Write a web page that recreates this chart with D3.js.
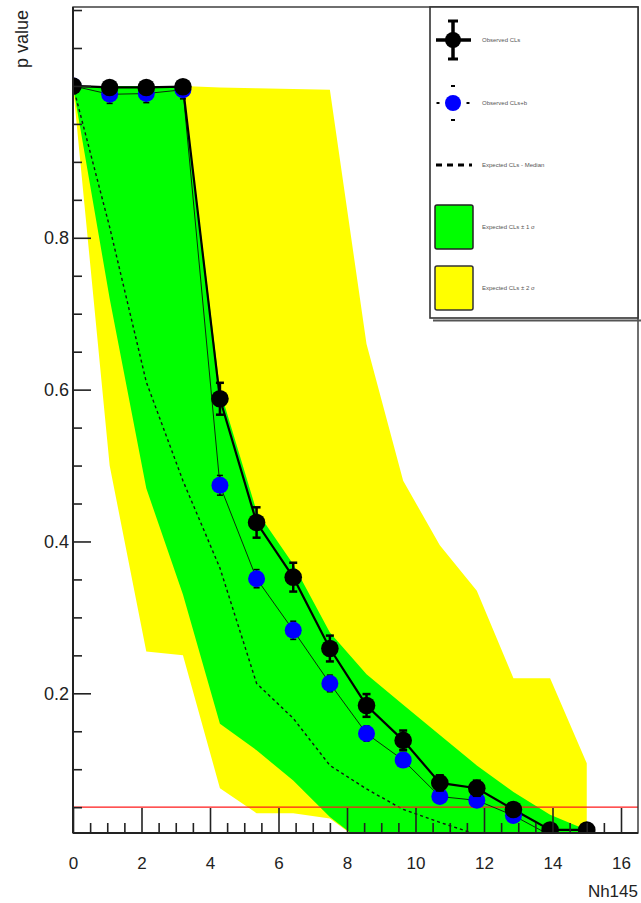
<!DOCTYPE html>
<html>
<head>
<meta charset="utf-8">
<script src="https://cdn.jsdelivr.net/npm/d3@7"></script>
<style>
  html, body { margin: 0; padding: 0; background: #fff; }
  svg { display: block; }
  text { font-family: "Liberation Sans", Arial, Helvetica, sans-serif; }
</style>
</head>
<body>
<svg id="chart" width="641" height="903"></svg>
<script>
// ---- data ----
const xVals      = [0, 1.07, 2.14, 3.21, 4.29, 5.36, 6.43, 7.5, 8.57, 9.64, 10.71, 11.79, 12.86, 13.93, 15.0];
const obsCLs     = [1.0, 0.998, 0.998, 0.999, 0.588, 0.425, 0.353, 0.259, 0.184, 0.138, 0.082, 0.075, 0.047, 0.020, 0.020];
const obsCLsErr  = [0.004, 0.004, 0.004, 0.004, 0.021, 0.020, 0.019, 0.017, 0.015, 0.013, 0.010, 0.010, 0.008, 0.005, 0.005];
const obsCLsb    = [1.0, 0.989, 0.990, 0.995, 0.474, 0.351, 0.283, 0.213, 0.147, 0.112, 0.064, 0.059, 0.039, 0.013, 0.013];
const obsCLsbErr = [0.003, 0.012, 0.012, 0.012, 0.013, 0.012, 0.012, 0.011, 0.010, 0.009, 0.008, 0.008, 0.007, 0.005, 0.005];
const expMedian  = [1.0, 0.814, 0.61, 0.48, 0.365, 0.213, 0.167, 0.105, 0.074, 0.047, 0.03, 0.014, 0.008, 0.005, 0.003];
const green1Up   = [1.0, 1.0, 1.0, 1.0, 0.60, 0.44, 0.37, 0.28, 0.225, 0.185, 0.145, 0.105, 0.07, 0.04, 0.02];
const green1Lo   = [1.0, 0.72, 0.47, 0.33, 0.16, 0.125, 0.085, 0.037, 0.0, 0, 0, 0, 0, 0, 0];
const yellow2Up  = [1.0, 1.0, 1.0, 1.0, 0.998, 0.997, 0.996, 0.995, 0.66, 0.48, 0.395, 0.335, 0.22, 0.22, 0.108];
const yellow2Lo  = [1.0, 0.5, 0.255, 0.25, 0.075, 0.042, 0.042, 0.035, 0, 0, 0, 0, 0, 0, 0];
const refLine    = 0.05;
const xTicks     = [0, 2, 4, 6, 8, 10, 12, 14, 16];
const yTicks     = [0.2, 0.4, 0.6, 0.8, 1.0];
const yTickLabels= ["0.2", "0.4", "0.6", "0.8", ""];
const legendLabels = ["Observed CLs", "Observed CLs+b", "Expected CLs - Median", "Expected CLs \u00b1 1 \u03c3", "Expected CLs \u00b1 2 \u03c3"];
const xTitle = "Nh145";
const yTitle = "p value";

// ---- layout ----
const L = 73, R = 638, T = 7, B = 833;
const svg = d3.select("#chart");
const x = d3.scaleLinear().domain([0, 16.5]).range([L, L + 16.5 * (621 - L) / 16]);
const y = d3.scaleLinear().domain([0.016, 1.104]).range([B, T]);

svg.append("defs").append("clipPath").attr("id", "clip")
  .append("rect").attr("x", L).attr("y", T).attr("width", R - L).attr("height", B - T);

const plot = svg.append("g").attr("clip-path", "url(#clip)");

const idx = d3.range(xVals.length);
const band = (up, lo) => d3.area().x(i => x(xVals[i])).y0(i => y(lo[i])).y1(i => y(up[i]));

plot.append("path").datum(idx).attr("d", band(yellow2Up, yellow2Lo)).attr("fill", "#ffff00");
plot.append("path").datum(idx).attr("d", band(green1Up, green1Lo)).attr("fill", "#00ff00");

const line = arr => d3.line().x(i => x(xVals[i])).y(i => y(arr[i]));
plot.append("path").datum(idx).attr("d", line(expMedian))
  .attr("fill", "none").attr("stroke", "#111").attr("stroke-width", 1.4).attr("stroke-dasharray", "3,3");

// red reference line
plot.append("line").attr("x1", L).attr("x2", R).attr("y1", y(refLine)).attr("y2", y(refLine))
  .attr("stroke", "#ff1a1a").attr("stroke-width", 1.2);

// observed CLs+b (blue)
plot.append("path").datum(idx).attr("d", line(obsCLsb))
  .attr("fill", "none").attr("stroke", "#0a2a0a").attr("stroke-width", 1);
// observed CLs (black)
plot.append("path").datum(idx).attr("d", line(obsCLs))
  .attr("fill", "none").attr("stroke", "#000").attr("stroke-width", 2.2);

function errBars(g, vals, errs, color, cap, w) {
  idx.forEach(i => {
    const cx = x(xVals[i]);
    const y1 = y(vals[i] + errs[i]), y2 = y(vals[i] - errs[i]);
    g.append("line").attr("x1", cx).attr("x2", cx).attr("y1", y1).attr("y2", y2).attr("stroke", color).attr("stroke-width", w);
    g.append("line").attr("x1", cx - cap).attr("x2", cx + cap).attr("y1", y1).attr("y2", y1).attr("stroke", color).attr("stroke-width", w);
    g.append("line").attr("x1", cx - cap).attr("x2", cx + cap).attr("y1", y2).attr("y2", y2).attr("stroke", color).attr("stroke-width", w);
  });
}
const gb = plot.append("g");
errBars(gb, obsCLsb, obsCLsbErr, "#000", 3, 1.5);
gb.selectAll("circle").data(idx).join("circle")
  .attr("cx", i => x(xVals[i])).attr("cy", i => y(obsCLsb[i])).attr("r", 8.5).attr("fill", "#0000ff");
const gk = plot.append("g");
errBars(gk, obsCLs, obsCLsErr, "#000", 4, 2.5);
gk.selectAll("circle").data(idx).join("circle")
  .attr("cx", i => x(xVals[i])).attr("cy", i => y(obsCLs[i])).attr("r", 8.8).attr("fill", "#000");

// ---- axes ----
const axisColor = "#222";
const xMinor = d3.range(0, 16.5, 0.5).filter(v => !xTicks.includes(v));
const yMinor = d3.range(0.05, 1.1001, 0.05).map(v => +v.toFixed(2)).filter(v => !yTicks.some(t => Math.abs(t - v) < 1e-6));

const xAx = svg.append("g").attr("transform", `translate(0,${B})`)
  .call(d3.axisBottom(x).tickValues(xTicks).tickFormat(d3.format("d")).tickSizeInner(-25).tickSizeOuter(0).tickPadding(24));
const xAxMin = svg.append("g").attr("transform", `translate(0,${B})`)
  .call(d3.axisBottom(x).tickValues(xMinor).tickFormat("").tickSizeInner(-10).tickSizeOuter(0));
const yAx = svg.append("g").attr("transform", `translate(${L},0)`)
  .call(d3.axisLeft(y).tickValues(yTicks).tickFormat((d, i) => yTickLabels[i]).tickSizeInner(-18).tickSizeOuter(0).tickPadding(4));
const yAxMin = svg.append("g").attr("transform", `translate(${L},0)`)
  .call(d3.axisLeft(y).tickValues(yMinor).tickFormat("").tickSizeInner(-9).tickSizeOuter(0));

[xAx, xAxMin, yAx, yAxMin].forEach(a => {
  a.select(".domain").remove();
  a.selectAll(".tick line").attr("stroke", axisColor).attr("stroke-width", 1.6);
  a.selectAll(".tick text").attr("fill", "#222").attr("font-size", 17);
});
yAx.selectAll(".tick text").attr("font-size", 18);
xAx.selectAll(".tick text").attr("dy", "0.71em");

// frame
svg.append("rect").attr("x", L).attr("y", T).attr("width", R - L).attr("height", B - T)
  .attr("fill", "none").attr("stroke", "#333").attr("stroke-width", 1.4);
svg.append("line").attr("x1", L).attr("x2", L).attr("y1", T).attr("y2", B).attr("stroke", axisColor).attr("stroke-width", 2);
svg.append("line").attr("x1", L).attr("x2", R).attr("y1", B).attr("y2", B).attr("stroke", axisColor).attr("stroke-width", 2);

// titles
svg.append("text").attr("x", R).attr("y", 897).attr("text-anchor", "end")
  .attr("font-size", 17).attr("fill", "#222").text(xTitle);
svg.append("text").attr("transform", "translate(28,10) rotate(-90)").attr("text-anchor", "end")
  .attr("font-size", 18).attr("fill", "#222").text(yTitle);

// ---- legend ----
const lg = svg.append("g");
const LX0 = 430, LY0 = 7, LX1 = 638, LY1 = 318;
lg.append("rect").attr("x", LX0).attr("y", LY0).attr("width", LX1 - LX0).attr("height", LY1 - LY0)
  .attr("fill", "#fff").attr("stroke", "#333").attr("stroke-width", 1.6);
lg.append("line").attr("x1", LX0 + 3).attr("x2", 641).attr("y1", LY1 + 2.5).attr("y2", LY1 + 2.5).attr("stroke", "#555").attr("stroke-width", 2);
const mX = 453, tX = 482;
const rows = [40, 103, 165, 227, 288];
// black marker
lg.append("line").attr("x1", 436).attr("x2", 471).attr("y1", rows[0]).attr("y2", rows[0]).attr("stroke", "#000").attr("stroke-width", 3.5);
lg.append("line").attr("x1", mX).attr("x2", mX).attr("y1", rows[0] - 19).attr("y2", rows[0] + 19).attr("stroke", "#000").attr("stroke-width", 3.5);
[-19, 19].forEach(d => lg.append("line").attr("x1", mX - 5).attr("x2", mX + 5).attr("y1", rows[0] + d).attr("y2", rows[0] + d).attr("stroke", "#000").attr("stroke-width", 3));
lg.append("circle").attr("cx", mX).attr("cy", rows[0]).attr("r", 8).attr("fill", "#000");
// blue marker
[-15, 15].forEach(dx => lg.append("line").attr("x1", mX + dx - 1.5).attr("x2", mX + dx + 1.5).attr("y1", rows[1]).attr("y2", rows[1]).attr("stroke", "#000").attr("stroke-width", 2));
[-17, 17].forEach(d => lg.append("line").attr("x1", mX - 2).attr("x2", mX + 2).attr("y1", rows[1] + d).attr("y2", rows[1] + d).attr("stroke", "#000").attr("stroke-width", 2));
lg.append("circle").attr("cx", mX).attr("cy", rows[1]).attr("r", 8).attr("fill", "#0000ff");
// dashed median
lg.append("line").attr("x1", 436).attr("x2", 472).attr("y1", rows[2]).attr("y2", rows[2])
  .attr("stroke", "#000").attr("stroke-width", 3).attr("stroke-dasharray", "6,5");
// boxes
lg.append("rect").attr("x", 435).attr("y", 205).attr("width", 38).attr("height", 44).attr("rx", 2)
  .attr("fill", "#00ff00").attr("stroke", "#222").attr("stroke-width", 1.5);
lg.append("rect").attr("x", 435).attr("y", 266).attr("width", 38).attr("height", 44).attr("rx", 2)
  .attr("fill", "#ffff00").attr("stroke", "#333").attr("stroke-width", 1.5);
lg.selectAll("text.leg").data(legendLabels).join("text").attr("class", "leg")
  .attr("x", tX).attr("y", (d, i) => rows[i]).attr("dy", "0.35em")
  .attr("font-size", 6).attr("fill", "#555").text(d => d);
</script>
</body>
</html>
